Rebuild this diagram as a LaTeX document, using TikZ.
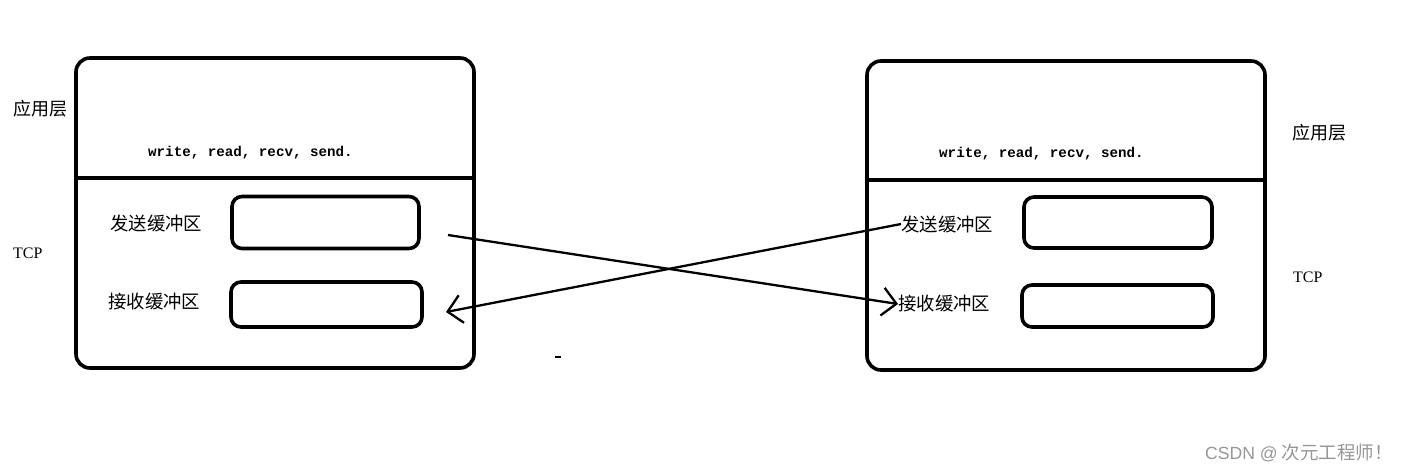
\documentclass[tikz,border=0pt]{standalone}
\usepackage{fontspec}
\setmainfont{Liberation Serif}
\setmonofont{Liberation Mono}
\newfontfamily\cjk{Noto Sans CJK SC}
\newfontfamily\wmsans{Liberation Sans}
\usetikzlibrary{arrows.meta,positioning}
\definecolor{markgray}{RGB}{150,150,150}

\begin{document}
\begin{tikzpicture}[x=1pt,y=-1pt,
  host/.style={draw,line width=3.6pt,rounded corners=14pt,inner sep=0pt},
  bufbox/.style={draw,line width=3.6pt,rounded corners=10pt,inner sep=0pt},
  layer/.style={font=\cjk\fontsize{18}{20}\selectfont,inner sep=0pt,anchor=west},
  buflbl/.style={font=\cjk\fontsize{18.4}{20}\selectfont,inner sep=0pt,anchor=west},
  tcp/.style={font=\fontsize{16}{18}\selectfont,inner sep=0pt,anchor=west},
  api/.style={font=\ttfamily\bfseries\fontsize{14.2}{16}\selectfont,inner sep=0pt,anchor=west},
  msg/.style={line width=2.3pt,-{Straight Barb[length=14pt,width=28pt,line width=2.3pt]}}]
\useasboundingbox (0,0) rectangle (1404,472);

% ------------- left host -------------
\node[host,minimum width=398pt,minimum height=310pt] (lhost) at (275,213) {};
\draw[line width=3.2pt] (lhost.west |- 0,178) -- (lhost.east |- 0,178);
\node[layer] (lapp) at (13,109) {应用层};
\node[tcp] (ltcp) at (13,253) {TCP};
\node[api] (lapi) at (148,153) {write, read, recv, send.};
\node[buflbl] (lsendtxt) at (110,223) {发送缓冲区};
\node[buflbl] (lrecvtxt) at (108,302) {接收缓冲区};
\node[bufbox,minimum width=187pt,minimum height=52pt] (lsend) at (325.5,222.5) {};
\node[bufbox,minimum width=191pt,minimum height=45pt] (lrecv) at (326.5,304.5) {};

% ------------- right host -------------
\node[host,minimum width=398pt,minimum height=309pt] (rhost) at (1066,215.5) {};
\draw[line width=3.2pt] (rhost.west |- 0,180) -- (rhost.east |- 0,180);
\node[layer] (rapp) at (1292,133) {应用层};
\node[tcp] (rtcp) at (1293,277) {TCP};
\node[api] (rapi) at (939,154) {write, read, recv, send.};
\node[buflbl] (rsendtxt) at (901,224) {发送缓冲区};
\node[buflbl] (rrecvtxt) at (898,304) {接收缓冲区};
\node[bufbox,minimum width=188pt,minimum height=51pt] (rsend) at (1118,222.5) {};
\node[bufbox,minimum width=191pt,minimum height=42pt] (rrecv) at (1117.5,306) {};

% ------------- crossing segments -------------
\coordinate (lout) at (448,235);
\coordinate (lin) at (446,312);
\draw[msg] (lout) -- (rrecvtxt.west);
\draw[msg] (rsendtxt.west) -- (lin);
\draw[line width=2pt] (555,357) -- (561,357);

\node[text=markgray,inner sep=0pt,anchor=west] (mark) at (1205,453)
  {{\wmsans\fontsize{17.6}{20}\selectfont CSDN @}\hspace{4pt}{\cjk\fontsize{18.5}{20}\selectfont 次元工程师！}};
\end{tikzpicture}
\end{document}
